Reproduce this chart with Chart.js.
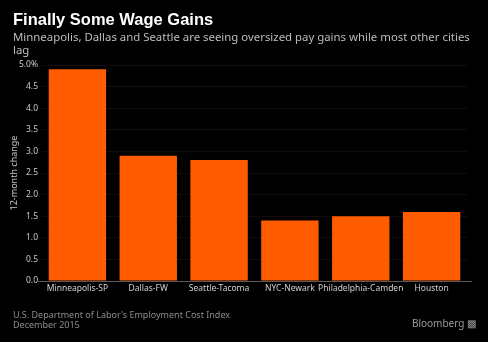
<!DOCTYPE html>
<html>
<head>
<meta charset="utf-8">
<script src="https://cdn.jsdelivr.net/npm/chart.js"></script>
<style>
  html, body { margin: 0; padding: 0; background: #000; }
  body { width: 488px; height: 342px; position: relative; overflow: hidden; font-family: "Noto Sans", sans-serif; }
  #title { position: absolute; left: 13px; top: 10px; color: #fff; font: bold 16.5px "Liberation Sans", sans-serif; }
  #sub { position: absolute; left: 13px; top: 30px; width: 480px; white-space: nowrap; color: #bdbdbd; font-size: 11.4px; line-height: 13px; }
  #src { position: absolute; left: 13px; top: 310px; color: #8c8c8c; font-size: 9px; line-height: 10px; }
  #brand { position: absolute; right: 12px; top: 316px; color: #9a9a9a; font-size: 10px; }
  canvas { position: absolute; left: 0; top: 0; }
</style>
</head>
<body>
<canvas id="bar-chart" width="488" height="342"></canvas>
<div id="title">Finally Some Wage Gains</div>
<div id="sub">Minneapolis, Dallas and Seattle are seeing oversized pay gains while most other cities<br>lag</div>
<div id="src">U.S. Department of Labor's Employment Cost Index<br>December 2015</div>
<div id="brand">Bloomberg &#9641;</div>
<script>
const cities = ['Minneapolis-SP', 'Dallas-FW', 'Seattle-Tacoma', 'NYC-Newark', 'Philadelphia-Camden', 'Houston'];
const change = [4.9, 2.9, 2.8, 1.4, 1.5, 1.6];

// zero line runs a bit past the bars on both sides
const baseLine = {
  id: 'baseLine',
  afterDraw(chart) {
    const ctx = chart.ctx;
    const y = chart.scales.y.getPixelForValue(0);
    ctx.save();
    ctx.strokeStyle = '#5a5a5a';
    ctx.lineWidth = 1;
    ctx.beginPath();
    ctx.moveTo(chart.chartArea.left - 4, y + 0.5);
    ctx.lineTo(chart.chartArea.right + 5, y + 0.5);
    ctx.stroke();
    ctx.restore();
  }
};

new Chart(document.getElementById('bar-chart'), {
  type: 'bar',
  data: {
    labels: cities,
    datasets: [{
      data: change,
      backgroundColor: '#ff5c00',
      categoryPercentage: 0.81,
      barPercentage: 1.0
    }]
  },
  options: {
    responsive: false,
    animation: false,
    layout: { padding: { top: 65, bottom: 41, left: 9, right: 21 } },
    plugins: { legend: { display: false }, tooltip: { enabled: false } },
    scales: {
      x: {
        grid: { display: false, drawTicks: false, tickLength: 0 },
        border: { display: false },
        ticks: { color: '#d0d0d0', font: { family: 'Noto Sans', size: 8.5 }, maxRotation: 0, autoSkip: false, padding: 2 },
        afterFit(s) { s.height = 20; }
      },
      y: {
        min: 0, max: 5,
        ticks: {
          stepSize: 0.5,
          color: '#c8c8c8',
          font: { family: 'Noto Sans', size: 8.5 },
          padding: 4,
          callback: v => v === 5 ? '5.0%' : v.toFixed(1)
        },
        grid: { color: '#0e0e0e', drawTicks: false },
        border: { display: false },
        title: { display: true, text: '12-month change', color: '#c8c8c8', font: { family: 'Noto Sans', size: 9 }, padding: 0 },
        afterFit(s) { s.width = 33; }
      }
    }
  },
  plugins: [baseLine]
});
</script>
</body>
</html>
